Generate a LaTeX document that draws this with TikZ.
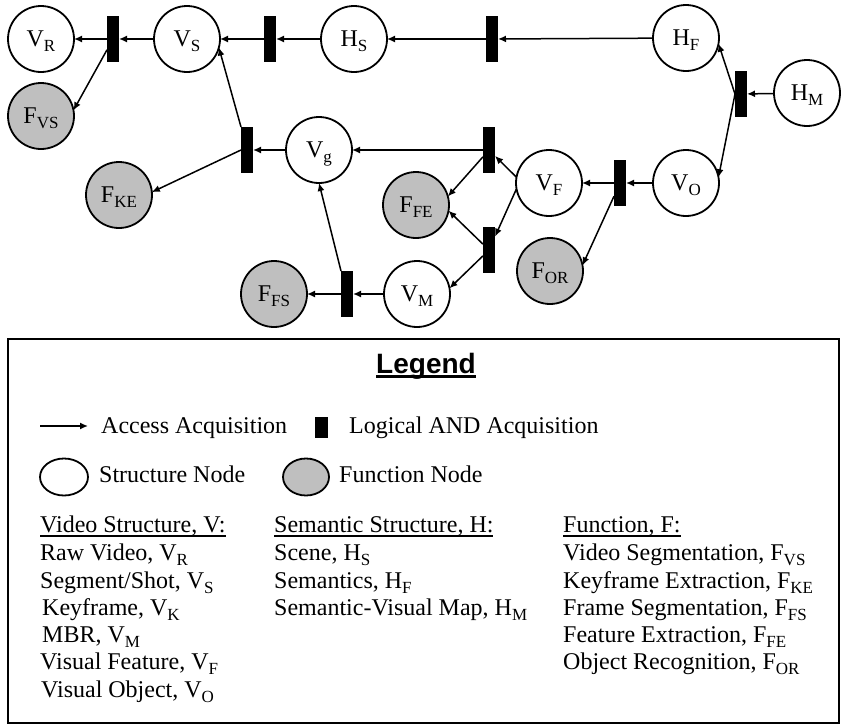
\documentclass[tikz,border=0pt]{standalone}
\usepackage{fontspec}
\setmainfont{Liberation Serif}
\setsansfont{Liberation Sans}
\usepackage{tkz-graph}
\usetikzlibrary{arrows.meta}
\usetikzlibrary{shapes}

\newcommand{\lsub}[1]{\raisebox{-5pt}{\fontsize{17}{17}\selectfont #1}}
\newcommand{\hdrline}[2][1.8pt]{\setbox0\hbox{#2}\rlap{\rule[-4.5pt]{\wd0}{#1}}\box0}

\begin{document}
\begin{tikzpicture}[x = 1pt, y = -1pt, font = \fontsize{24}{28}\selectfont]
	\tikzstyle{VertexStyle} = []
	\tikzstyle{EdgeStyle} = [-{Latex[length=8pt, width=7pt]}, line width = 1.5pt]
	\tikzstyle{structStyle} = [shape = circle, minimum size = 66pt, inner sep = 0pt, text depth = 0pt, line width = 1.8pt, draw, fill = white]
	\tikzstyle{funcStyle} = [structStyle, fill = black!25]
	\tikzstyle{andStyle} = [shape = rectangle, minimum width = 12pt, minimum height = 46pt, inner sep = 0pt, fill = black]
	\tikzstyle{itemStyle} = [anchor = base west, inner sep = 0pt]
	\useasboundingbox (0,0) rectangle (841,726);
	% graph
	\Vertex[style = structStyle, x = 41, y = 39, L = {V\lsub{R}}]{VR}
	\Vertex[style = andStyle, x = 113, y = 39, NoLabel]{a1}
	\Vertex[style = structStyle, x = 187, y = 39, L = {V\lsub{S}}]{VS}
	\Vertex[style = andStyle, x = 270, y = 39, NoLabel]{a2}
	\Vertex[style = structStyle, x = 354, y = 39, L = {H\lsub{S}}]{HS}
	\Vertex[style = andStyle, x = 492, y = 39, NoLabel]{a3}
	\Vertex[style = structStyle, x = 686, y = 38, L = {H\lsub{F}}]{HF}
	\Vertex[style = andStyle, x = 741, y = 94, NoLabel]{a4}
	\Vertex[style = structStyle, x = 807, y = 93, L = {H\lsub{M}}]{HM}
	\Vertex[style = funcStyle, x = 41, y = 116, L = {F\lsub{VS}}]{FVS}
	\Vertex[style = andStyle, x = 247, y = 150, NoLabel]{a5}
	\Vertex[style = structStyle, x = 319, y = 150, L = {V\lsub{g}}]{Vg}
	\Vertex[style = funcStyle, x = 119, y = 195, L = {F\lsub{KE}}]{FKE}
	\Vertex[style = andStyle, x = 489, y = 150, NoLabel]{a6}
	\Vertex[style = structStyle, x = 549, y = 183, L = {V\lsub{F}}]{VF}
	\Vertex[style = andStyle, x = 620, y = 183, NoLabel]{a7}
	\Vertex[style = structStyle, x = 686, y = 183, L = {V\lsub{O}}]{VO}
	\Vertex[style = funcStyle, x = 416, y = 205, L = {F\lsub{FE}}]{FFE}
	\Vertex[style = andStyle, x = 489, y = 250, NoLabel]{a8}
	\Vertex[style = funcStyle, x = 550, y = 271, L = {F\lsub{OR}}]{FOR}
	\Vertex[style = structStyle, x = 417, y = 294, L = {V\lsub{M}}]{VM}
	\Vertex[style = andStyle, x = 347, y = 294, NoLabel]{a9}
	\Vertex[style = funcStyle, x = 274, y = 294, L = {F\lsub{FS}}]{FFS}
	\Edge(a1)(VR)
	\Edge(VS)(a1)
	\Edge(a1)(FVS.10)
	\Edge(a2)(VS)
	\Edge(HS)(a2)
	\Edge(a3)(HS)
	\Edge(HF)(a3)
	\Edge(HM)(a4)
	\Edge(a4.west)(HF.-10)
	\Edge(a4.west)(VO.10)
	\Edge(Vg)(a5)
	\Edge(a5.north west)(VS.-15)
	\Edge(a5.west)(FKE.5)
	\Edge(a6)(Vg)
	\Edge(VF.170)(a6)
	\Edge(a6)(FFE.15)
	\Edge(VF.190)(a8)
	\Edge(a8)(FFE.-10)
	\Edge(a8)(VM.10)
	\Edge(VO)(a7)
	\Edge(a7)(VF)
	\Edge(a7)(FOR.10)
	\Edge(VM)(a9)
	\Edge(a9)(FFS)
	\Edge(a9.north west)(Vg.south)
	% legend
	\draw[line width = 2.5pt] (8,339) rectangle (839,723);
	\node[anchor = base, inner sep = 0pt, font = \sffamily\bfseries\fontsize{28}{32}\selectfont] (title) at (426,373) {\hdrline[2.5pt]{Legend}};
	\coordinate (accA) at (40,426);
	\coordinate (accB) at (88,426);
	\draw[EdgeStyle] (accA) -- (accB);
	\node[itemStyle] (accT) at (101,433) {Access Acquisition};
	\node[andStyle, minimum width = 13pt, minimum height = 21pt] (andL) at (321,427) {};
	\node[itemStyle] (andT) at (349,433) {Logical AND Acquisition};
	\node[structStyle, shape = ellipse, minimum width = 48pt, minimum height = 37pt] (strL) at (64,477) {};
	\node[itemStyle] (strT) at (99,482) {Structure Node};
	\node[funcStyle, shape = ellipse, minimum width = 46pt, minimum height = 37pt] (funL) at (306,477) {};
	\node[itemStyle] (funT) at (339,482) {Function Node};
	% video structure
	\node[itemStyle] (vHead) at (40,532) {\hdrline{Video Structure, V:}};
	\node[itemStyle] (vR) at (40,560) {Raw Video, V\lsub{R}};
	\node[itemStyle] (vS) at (40,588) {Segment/Shot, V\lsub{S}};
	\node[itemStyle] (vK) at (42,615) {Keyframe, V\lsub{K}};
	\node[itemStyle] (vM) at (42,642) {MBR, V\lsub{M}};
	\node[itemStyle] (vF) at (40,669) {Visual Feature, V\lsub{F}};
	\node[itemStyle] (vO) at (41,697) {Visual Object, V\lsub{O}};
	% semantic structure
	\node[itemStyle] (hHead) at (274,532) {\hdrline{Semantic Structure, H:}};
	\node[itemStyle] (hS) at (274,560) {Scene, H\lsub{S}};
	\node[itemStyle] (hF) at (274,588) {Semantics, H\lsub{F}};
	\node[itemStyle] (hM) at (274,615) {Semantic-Visual Map, H\lsub{M}};
	% function
	\node[itemStyle] (fHead) at (563,532) {\hdrline{Function, F:}};
	\node[itemStyle] (fVS) at (563,560) {Video Segmentation, F\lsub{VS}};
	\node[itemStyle] (fKE) at (563,588) {Keyframe Extraction, F\lsub{KE}};
	\node[itemStyle] (fFS) at (563,615) {Frame Segmentation, F\lsub{FS}};
	\node[itemStyle] (fFE) at (563,642) {Feature Extraction, F\lsub{FE}};
	\node[itemStyle] (fOR) at (563,669) {Object Recognition, F\lsub{OR}};
\end{tikzpicture}
\end{document}
